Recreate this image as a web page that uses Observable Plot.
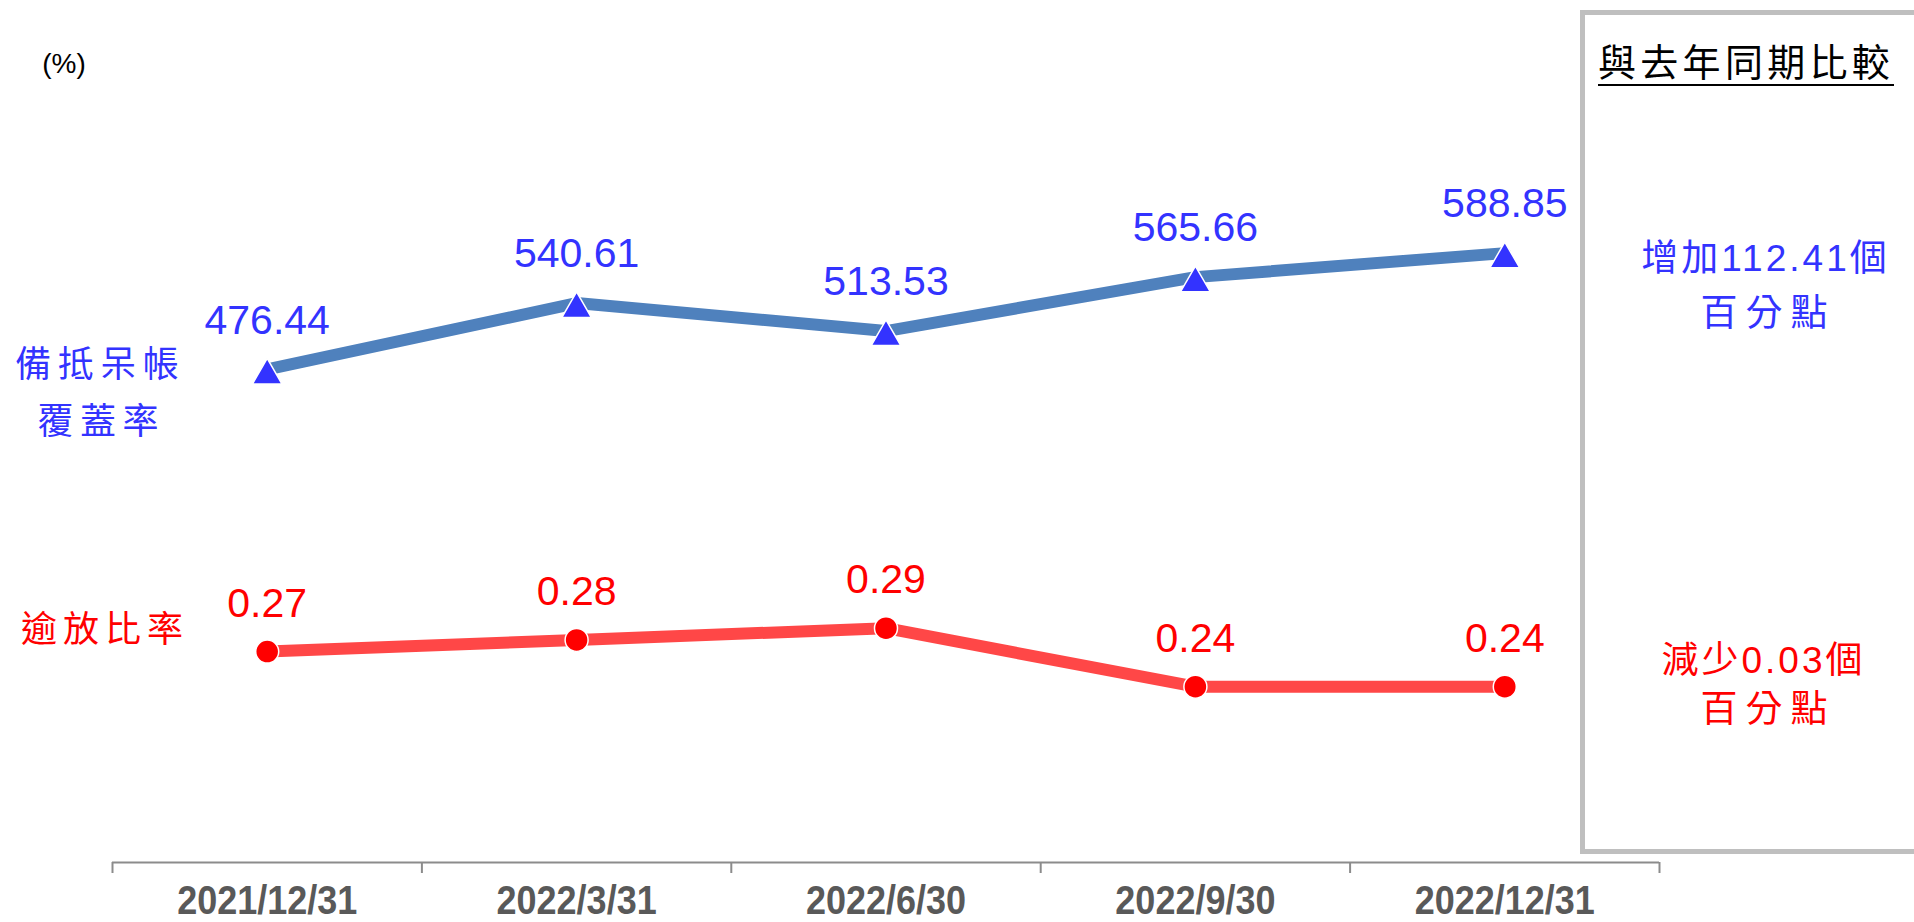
<!DOCTYPE html>
<html><head><meta charset="utf-8">
<script src="https://cdn.jsdelivr.net/npm/d3@7"></script>
<script src="https://cdn.jsdelivr.net/npm/@observablehq/plot@0.6"></script>
<style>
html,body{margin:0;padding:0;background:#fff;overflow:hidden;}
#wrap{position:relative;width:1914px;height:922px;overflow:hidden;font-family:"Liberation Sans",Arial,sans-serif;background:#fff;}
#wrap svg{position:absolute;left:0;top:0;}
.lbl{position:absolute;white-space:nowrap;text-align:center;}
#box{position:absolute;left:1580px;top:10px;width:420px;height:844px;box-sizing:border-box;border:5px solid #bfbfbf;}
</style></head><body>
<div id="wrap"><div id="box"></div></div>
<script>
const dates = ["2021/12/31", "2022/3/31", "2022/6/30", "2022/9/30", "2022/12/31"];
const coverage = [476.44, 540.61, 513.53, 565.66, 588.85];
const overdue = [0.27, 0.28, 0.29, 0.24, 0.24];
const coverageName = ["備抵呆帳", "覆蓋率"];
const overdueName = "逾放比率";
const panelTitle = "與去年同期比較";
const coverageChange = ["增加112.41個", "百分點"];
const overdueChange = ["減少0.03個", "百分點"];
const unitLabel = "(%)";

const idx = dates.map((d, i) => i);
const bounds = [-0.5, ...idx.map(i => i + 0.5)];
const covData = dates.map((d, i) => ({i, date: d, v: coverage[i]}));
const odData = dates.map((d, i) => ({i, date: d, v: overdue[i]}));

const W = 1914, H = 922;
const FONT = "Liberation Sans, Arial, sans-serif";
const common = {width: W, height: H, marginLeft: 112, marginRight: 255,
  style: {background: "transparent", overflow: "visible", fontFamily: FONT}};

const p1 = Plot.plot({
  ...common,
  marginTop: 137.6, marginBottom: 60,
  x: {type: "linear", domain: [-0.5, 4.5], label: null},
  y: {domain: [0, 700], axis: null},
  marks: [
    Plot.ruleY([0], {stroke: "#8c8c8c", strokeWidth: 2}),
    Plot.axisX({ticks: bounds, tickSize: 11, tickFormat: () => "", label: null, stroke: "#8c8c8c", strokeWidth: 2, strokeOpacity: 1}),
    Plot.axisX({ticks: idx, tickSize: 0, tickPadding: 23, tickFormat: i => dates[i], label: null,
      fontSize: 40, fontWeight: "bold", fill: "#595959", fontFamily: FONT}),
    Plot.line(covData, {x: "i", y: "v", stroke: "#4f81bd", strokeWidth: 12}),
    Plot.dot(covData, {x: "i", y: "v", symbol: "triangle", r: 11, fill: "#3333ff", stroke: "white", strokeWidth: 1.5, dy: 6}),
    Plot.text(covData, {x: "i", y: "v", text: d => d.v.toFixed(2), dy: -49, fill: "#3333ff", fontSize: 41, lineAnchor: "middle", fontFamily: FONT})
  ]
});

// condense the bold date labels horizontally (narrow font look)
d3.select(p1).selectAll("text").each(function() {
  if (dates.includes(this.textContent)) {
    const tr = this.getAttribute("transform") || "";
    this.setAttribute("transform", tr + " scale(0.9,1)");
  }
});

const p2 = Plot.plot({
  ...common,
  marginTop: 148, marginBottom: 72,
  x: {type: "linear", domain: [-0.5, 4.5], axis: null},
  y: {domain: [0.1, 0.7], axis: null},
  marks: [
    Plot.line(odData, {x: "i", y: "v", stroke: "#ff4747", strokeWidth: 12}),
    Plot.dot(odData, {x: "i", y: "v", r: 11.5, fill: "#ff0000", stroke: "white", strokeWidth: 1.5}),
    Plot.text(odData, {x: "i", y: "v", text: d => d.v.toFixed(2), dy: -48, fill: "#ff0000", fontSize: 41, lineAnchor: "middle", fontFamily: FONT})
  ]
});

const wrap = document.getElementById("wrap");
wrap.appendChild(p1);
wrap.appendChild(p2);

function addLabel(text, cx, cy, size, color, spacing, family) {
  const d = document.createElement("div");
  d.className = "lbl";
  d.textContent = text;
  d.style.left = (cx - 500) + "px";
  d.style.width = "1000px";
  d.style.top = (cy - size * 0.56) + "px";
  d.style.fontSize = size + "px";
  d.style.lineHeight = size + "px";
  d.style.color = color;
  d.style.letterSpacing = spacing + "px";
  d.style.paddingLeft = spacing + "px";
  d.style.boxSizing = "border-box";
  d.style.fontFamily = family;
  wrap.appendChild(d);
  return d;
}
const CJK = '"Liberation Sans", "Noto Sans CJK TC", sans-serif';
const BLUE = "#3333ff", RED = "#ff0000";

addLabel(unitLabel, 64, 66, 28, "#000", 0, '"Liberation Sans", Arial, sans-serif');
addLabel(coverageName[0], 97, 367, 36, BLUE, 6.5, CJK);
addLabel(coverageName[1], 98, 424, 36, BLUE, 6.5, CJK);
addLabel(overdueName, 102, 632, 36, RED, 6, CJK);

addLabel(coverageChange[0], 1764, 261, 37, BLUE, 3, CJK);
addLabel(coverageChange[1], 1764, 316, 37, BLUE, 8, CJK);
addLabel(overdueChange[0], 1762, 663, 37, RED, 3, CJK);
addLabel(overdueChange[1], 1764, 712, 37, RED, 8, CJK);

// panel title with underline
const t = document.createElement("div");
t.className = "lbl";
t.style.left = "1598px";
t.style.top = "44px";
t.style.fontFamily = CJK;
t.style.fontSize = "38px";
t.style.lineHeight = "38px";
t.style.color = "#000";
const s = document.createElement("span");
s.textContent = panelTitle;
s.style.letterSpacing = "4.3px";
s.style.display = "inline-block";
s.style.borderBottom = "2.5px solid #000";
s.style.paddingBottom = "2px";
t.appendChild(s);
wrap.appendChild(t);
</script>
</body></html>
